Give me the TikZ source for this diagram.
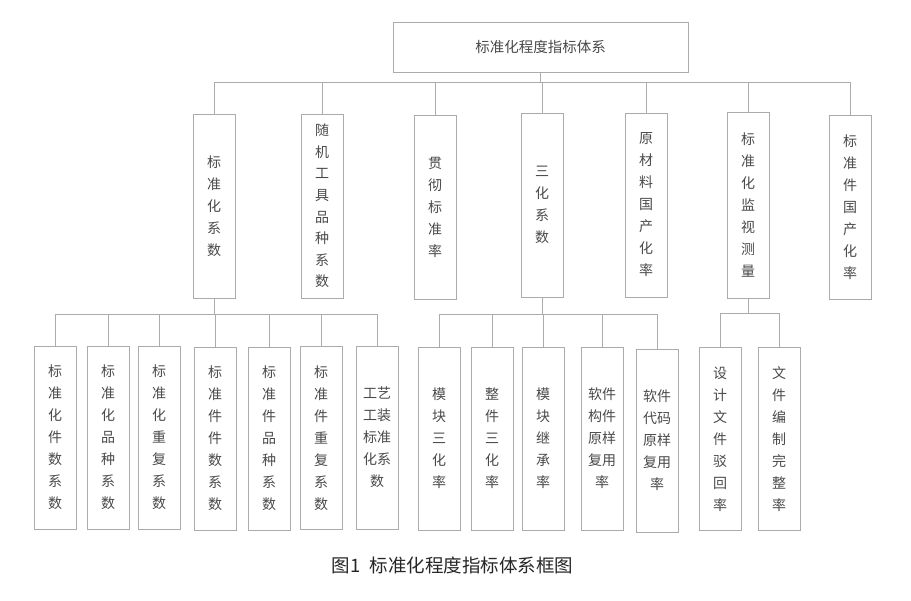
\documentclass[tikz,border=0pt]{standalone}
\usepackage{fontspec}
\newfontfamily\cjk{Noto Sans CJK SC}
\definecolor{linegray}{HTML}{ABABAB}
\definecolor{textgray}{HTML}{4A4A4A}
\begin{document}
\begin{tikzpicture}[x=1pt,y=-1pt,
  box/.style={draw=linegray, line width=0.9pt, inner sep=0pt, align=center, text=textgray,
    font=\cjk\fontsize{14}{22}\selectfont},
  lone/.style={box, minimum width=42pt, minimum height=184pt},
  ltwo/.style={box, minimum width=42pt, minimum height=183pt},
  conn/.style={draw=linegray, line width=0.9pt}]
\useasboundingbox (0,0) rectangle (911,601);
\fill[white] (0,0) rectangle (911,601);
% top
\node[box, minimum width=295pt, minimum height=50pt, font=\cjk\fontsize{14.5}{18}\selectfont] (top) at (540.5,47) {标准化程度指标体系};
% level 1
\node[lone] (a1) at (214,206) {标\\准\\化\\系\\数};
\node[lone, font=\cjk\fontsize{14}{21.6}\selectfont] (a2) at (322,206) {随\\机\\工\\具\\品\\种\\系\\数};
\node[lone] (a3) at (435,207) {贯\\彻\\标\\准\\率};
\node[lone] (a4) at (542,205) {三\\化\\系\\数};
\node[lone] (a5) at (646,205) {原\\材\\料\\国\\产\\化\\率};
\node[lone, minimum height=186pt] (a6) at (748,205) {标\\准\\化\\监\\视\\测\\量};
\node[lone] (a7) at (850,207.5) {标\\准\\件\\国\\产\\化\\率};
% level 2 under a1
\node[ltwo] (b1) at (55,437.5) {标\\准\\化\\件\\数\\系\\数};
\node[ltwo] (b2) at (108,437.5) {标\\准\\化\\品\\种\\系\\数};
\node[ltwo] (b3) at (159,437.5) {标\\准\\化\\重\\复\\系\\数};
\node[ltwo] (b4) at (215,438.5) {标\\准\\件\\件\\数\\系\\数};
\node[ltwo] (b5) at (269,438.5) {标\\准\\件\\品\\种\\系\\数};
\node[ltwo] (b6) at (321,438) {标\\准\\件\\重\\复\\系\\数};
\node[ltwo] (b7) at (377,437.5) {工艺\\工装\\标准\\化系\\数};
% level 2 under a4
\node[ltwo] (c1) at (439,438.5) {模\\块\\三\\化\\率};
\node[ltwo] (c2) at (492,438.5) {整\\件\\三\\化\\率};
\node[ltwo] (c3) at (543,438.5) {模\\块\\继\\承\\率};
\node[ltwo] (c4) at (602,438.5) {软件\\构件\\原样\\复用\\率};
\node[ltwo] (c5) at (657,440.5) {软件\\代码\\原样\\复用\\率};
% level 2 under a6
\node[ltwo] (d1) at (720,439) {设\\计\\文\\件\\驳\\回\\率};
\node[ltwo] (d2) at (779,439) {文\\件\\编\\制\\完\\整\\率};
% buses
\coordinate (bus0) at (540.5,82);
\coordinate (busa) at (214,314);
\coordinate (busc) at (542,314);
\coordinate (busd) at (748,313);
\draw[conn] (top.south) -- (bus0);
\foreach \n in {a1,a2,a3,a4,a5,a6,a7} \draw[conn] (\n.north) |- (bus0);
\draw[conn] (a1.south) -- (busa);
\foreach \n in {b1,b2,b3,b4,b5,b6,b7} \draw[conn] (\n.north) |- (busa);
\draw[conn] (a4.south) -- (busc);
\foreach \n in {c1,c2,c3,c4,c5} \draw[conn] (\n.north) |- (busc);
\draw[conn] (a6.south) -- (busd);
\foreach \n in {d1,d2} \draw[conn] (\n.north) |- (busd);
% caption
\node[inner sep=0pt, text=black!85, font=\cjk\fontsize{18.5}{22}\selectfont] (cap) at (452.5,565) {图1\hspace{9pt}标准化程度指标体系框图};
\end{tikzpicture}
\end{document}
